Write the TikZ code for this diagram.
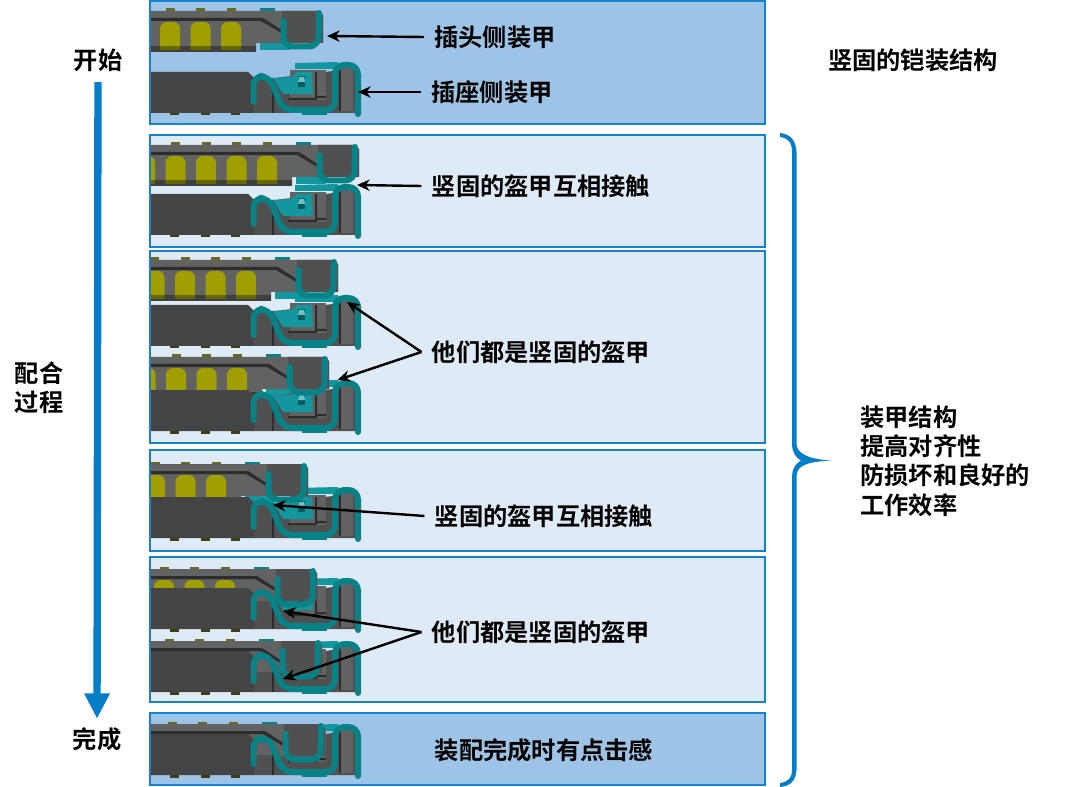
\documentclass[tikz,border=0pt]{standalone}
\usepackage{fontspec}
\setmainfont{Noto Sans CJK SC Bold}
\usetikzlibrary{arrows.meta}

\definecolor{panelframe}{RGB}{20,130,205}
\definecolor{paneldark}{RGB}{157,195,230}
\definecolor{panellight}{RGB}{222,235,247}
\definecolor{flowblue}{RGB}{5,125,200}
\definecolor{shellgrey}{RGB}{98,98,98}
\definecolor{shellmid}{RGB}{80,80,80}
\definecolor{shelldeep}{RGB}{68,68,68}
\definecolor{shellline}{RGB}{45,45,45}
\definecolor{windowyellow}{RGB}{160,158,0}
\definecolor{tabolive}{RGB}{105,105,35}
\definecolor{springteal}{RGB}{8,130,135}
\definecolor{capteal}{RGB}{20,150,158}

\tikzset{
  panel/.style={draw=panelframe,line width=1.2pt},
  spring/.style={draw=springteal,line width=4.5pt,line cap=round,rounded corners=7pt},
  lbl/.style={inner sep=0.75pt,outer sep=7pt,font=\fontsize{18.2}{22}\selectfont},
  lblplain/.style={inner sep=0.75pt,font=\fontsize{18.2}{22}\selectfont},
  callout/.style={draw=black,line width=1.8pt,-{Stealth[length=9.5pt,width=8.5pt]}},
}

%clip strip under the plug
\newcommand{\plugstrip}{%
  \fill[capteal] (260,43) rectangle (290,50);
}

%socket parts behind the plug
\newcommand{\socketback}{%
  \fill[capteal] (295,63) -- (338,62) -- (338,69) -- (295,69) -- cycle;
  \fill[shellmid] (253,78) -- (275,78) -- (358,68) -- (358,113) -- (253,113) -- cycle;
  \fill[shellgrey] (290,70) -- (326,70) -- (326,100) -- (290,100) -- cycle;
  \fill[shellline] (315,72) rectangle (317,98) (317,96) rectangle (326,98) (288,98) rectangle (317,100);
  \fill[shellgrey] (339,66) rectangle (353,111);
  \fill[shellline] (339,68) rectangle (341,111);
  \fill[capteal] (273,78) -- (292,77) -- (297,72) -- (312,72) -- (313,94) -- (283,94) -- cycle;
  \fill[springteal!70!black] (298,76) rectangle (305,87);
  \fill[capteal!60!white] (299,77) -- (304,77) -- (305,82) -- (298,82) -- cycle;
  \fill[springteal] (302,110) rectangle (327,115);
}

%plug shell with its windows and tabs
\newcommand{\plugshell}{%
  \foreach \tabx in {105,135.3,165.7,196,226.7}
    \fill[tabolive] (\tabx,8.5) rectangle ++(9,2.5);
  \fill[springteal] (260,8.5) rectangle (275,11);
  \fill[shellgrey] (90,11) -- (318,11) -- (323,15) -- (323,43) -- (256,43) -- (256,52) -- (90,52) -- cycle;
  \fill[shellmid] (282,11) -- (318,11) -- (323,15) -- (323,43) -- (282,43) -- cycle;
  \foreach \winx in {99,129.5,160,190.5,221}
    \fill[windowyellow,rounded corners=5pt] (\winx,50) -- (\winx,22) -- (\winx+20,22) -- (\winx+20,50);
  \fill[shellline] (90,18) -- (263,18) -- (283,31) -- (283,34) -- (261,21) -- (90,21) -- cycle;
  \fill[black,opacity=0.35] (90,46) rectangle (256,52);
}

%socket body in front of the plug
\newcommand{\socketfront}{%
  \fill[shelldeep] (151,72) -- (248,72) -- (254,78) -- (254,113) -- (151,113) -- cycle;
  \fill[shellmid] (254,93) rectangle (273,113);
  \fill[shellline] (272,90) rectangle (273.5,113);
  \foreach \tabx in {170,201,231}
    \fill[tabolive!60!black] (\tabx,113) rectangle ++(9,2.5);
}

%one plug and socket pair: clip top, clip bottom, plug dx, plug dy, socket dy
\newcommand{\matedpair}[5]{%
  \begin{scope}
    \clip (151,#1) rectangle (764,#2);
    \begin{scope}[shift={(#3,#4)}]\plugstrip\end{scope}
    \begin{scope}[shift={(0,#5)}]\socketback\end{scope}
    \begin{scope}[shift={(#3,#4)}]\plugshell\end{scope}
    \begin{scope}[shift={(0,#5)}]\socketfront\end{scope}
    \draw[spring,shift={(#3,#4)}] (283.5,21) -- (283.5,46.5) -- (318.5,46.5) -- (319,13);
    \draw[spring,shift={(0,#5)}] (253.5,102) -- (253.5,76) -- (269,76) -- (283,110) -- (335,110) -- (335,65) -- (358,65) -- (358,114);
  \end{scope}
}

\begin{document}
\begin{tikzpicture}[x=0.75pt,y=0.75pt,yscale=-1,xscale=1]
\useasboundingbox (0,0) rectangle (1080,787);

%Shape: Panels
\draw[panel,fill=paneldark] (150,1) rectangle (765,124);
\draw[panel,fill=panellight] (150,135) rectangle (765,247);
\draw[panel,fill=panellight] (150,251) rectangle (765,443);
\draw[panel,fill=panellight] (150,450) rectangle (765,551);
\draw[panel,fill=panellight] (150,557) rectangle (765,702);
\draw[panel,fill=paneldark] (150,713) rectangle (765,785);

%Shape: Connector pairs
\matedpair{2}{123}{0}{0}{0}
\matedpair{136}{246}{36}{134}{122}
\matedpair{252}{442}{15}{249}{233}
\matedpair{252}{442}{6}{346}{318}
\matedpair{451}{550}{-15}{453}{425}
\matedpair{558}{701}{-6}{558}{516}
\matedpair{558}{701}{-1}{630}{579}
\matedpair{714}{784}{2}{713}{662}

%Shape: Brace
\fill[flowblue] (780,133) .. controls (790,134) and (796,140) .. (796.5,152) -- (796.5,444) .. controls (797,452) and (805,459) .. (831,460.5) .. controls (805,462) and (797,466) .. (796.5,476) -- (796.5,770) .. controls (796,781) and (790,786) .. (780,787) -- (780,783) .. controls (788,782) and (792,778) .. (792,770) -- (792,476) .. controls (792,469) and (796,463) .. (801,460.5) .. controls (796,458) and (792,452) .. (792,444) -- (792,152) .. controls (792,142) and (788,138) .. (780,137) -- cycle;

% Text Node
\draw (98,60) node (start) [lblplain] {开始};
% Text Node
\draw (97,739) node (finish) [lblplain] {完成};
% Text Node
\draw (39,388) node (process) [lblplain,align=center] {配合\\过程};
% Text Node
\draw (913,60) node (title) [lblplain] {竖固的铠装结构};
% Text Node
\draw (859,461) node (summary) [lblplain,anchor=west,align=left] {装甲结构\\提高对齐性\\防损坏和良好的\\工作效率};
% Text Node
\draw (495,37) node (plugside) [lbl] {插头侧装甲};
% Text Node
\draw (492,92) node (socketside) [lbl] {插座侧装甲};
% Text Node
\draw (541,186) node (touchone) [lbl] {竖固的盔甲互相接触};
% Text Node
\draw (541,352) node (bothone) [lbl] {他们都是竖固的盔甲};
% Text Node
\draw (544,516) node (touchtwo) [lbl] {竖固的盔甲互相接触};
% Text Node
\draw (541,632) node (bothtwo) [lbl] {他们都是竖固的盔甲};
% Text Node
\draw (544,750) node (clickfeel) [lblplain] {装配完成时有点击感};

%Arrow ends on the armour
\coordinate (tipplug) at (327,36);
\coordinate (tipsocket) at (358,92);
\coordinate (tiptouchone) at (357,185);
\coordinate (tipbothupper) at (347,302);
\coordinate (tipbothlower) at (337.5,380);
\coordinate (tiptouchtwo) at (273,505);
\coordinate (tipfitupper) at (283,611);
\coordinate (tipfitlower) at (283,679);

\draw[callout] (plugside.west) -- (tipplug);
\draw[callout] (socketside.west) -- (tipsocket);
\draw[callout] (touchone.west) -- (tiptouchone);
\draw[callout] (bothone.west) -- (tipbothupper);
\draw[callout] (bothone.west) -- (tipbothlower);
\draw[callout] (touchtwo.west) -- (tiptouchtwo);
\draw[callout] (bothtwo.west) -- (tipfitupper);
\draw[callout] (bothtwo.west) -- (tipfitlower);

%Shape: Flow arrow
\draw[draw=flowblue,line width=5.5pt,-{Triangle[length=19pt,width=18pt]},shorten <=7pt,shorten >=5.5pt] (start) -- (finish);

\end{tikzpicture}
\end{document}
